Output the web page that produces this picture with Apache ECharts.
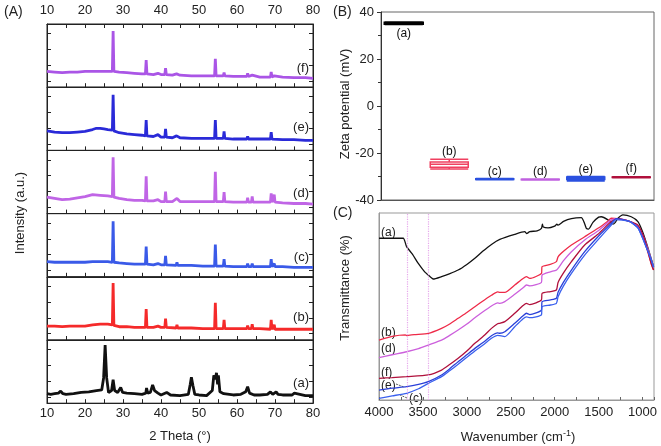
<!DOCTYPE html>
<html><head><meta charset="utf-8">
<script src="https://cdn.jsdelivr.net/npm/echarts@6/dist/echarts.min.js"></script>
<style>html,body{margin:0;padding:0;background:#fff}#c{width:661px;height:446px}</style>
</head><body><div id="c"></div>
<script>
// ---------- Panel A: XRD (2 Theta vs intensity, stacked f..a from top) ----------
const xrdNames = ['(f)','(e)','(d)','(c)','(b)','(a)'];
const xrdF = [[10,25],[12,24],[14,23],[16,24],[18,24],[20,25],[22,25],[24,25],[26,25],[27.2,25],[27.4,89],[27.6,25],[29,24],[31,23],[33,22],[35,21],[35.9,21],[36.1,43],[36.3,21],[38,20],[39.2,22],[40,20],[41.0,20],[41.2,30],[41.4,20],[43,19],[44.1,21],[45,19],[48,18],[51,18],[54.1,18],[54.3,45],[54.5,18],[56.4,18],[56.6,23],[56.8,18],[59,17],[62.6,17],[62.8,22],[63,17],[64,19],[66,16],[68.8,16],[69,24],[69.2,16],[69.8,18],[72,16],[75,15],[78,15],[80,14]];
const xrdE = [[10,31],[12,29],[14,28],[16,28],[18,29],[20,30],[22,33],[23,35],[24,35],[25,34],[26,33],[27.2,32],[27.4,88],[27.6,31],[29,28],[31,26],[33,25],[35,24],[35.9,23],[36.1,48],[36.3,23],[38,22],[39.2,25],[40,21],[41.0,21],[41.2,34],[41.4,21],[43,20],[44.1,23],[45,20],[48,19],[51,19],[54.1,19],[54.3,48],[54.5,19],[56.4,19],[56.6,30],[56.8,19],[59,18],[62.6,18],[62.8,22],[63,18],[66,18],[68.8,18],[69,29],[69.2,18],[72,17],[75,17],[78,16],[80,16]];
const xrdD = [[10,26],[12,24],[14,22],[16,23],[18,25],[20,27],[22,30],[24,29],[26,28],[27.2,27],[27.4,89],[27.6,26],[29,24],[31,22],[33,21],[35,21],[35.9,20],[36.1,59],[36.3,20],[38,20],[39.2,22],[40,19],[41.0,19],[41.2,35],[41.4,19],[43,19],[44.2,24],[45,19],[48,19],[51,19],[54.1,19],[54.3,66],[54.5,19],[56.4,19],[56.6,34],[56.8,19],[59,18],[62.6,18],[62.8,25],[63,18],[63.8,18],[64.0,27],[64.2,18],[66,18],[68.8,18],[69,32],[69.2,18],[69.6,18],[69.8,30],[70,18],[72,17],[75,16],[78,16],[80,15]];
const xrdC = [[10,24],[12,23],[14,23],[16,23],[18,23],[20,23],[22,24],[24,24],[26,24],[27.2,23],[27.4,88],[27.6,23],[29,22],[31,21],[33,20],[35,20],[35.9,20],[36.1,48],[36.3,20],[38,19],[39.2,21],[40,19],[41.0,19],[41.2,33],[41.4,19],[44.0,18],[44.2,23],[44.4,18],[46,18],[48,18],[51,17],[54.1,17],[54.3,51],[54.5,17],[56.4,17],[56.6,28],[56.8,17],[59,16],[62.6,16],[62.8,21],[63,16],[63.8,16],[64,21],[64.2,16],[66,16],[68.8,16],[69,28],[69.2,16],[69.6,16],[69.8,21],[70,16],[72,16],[75,15],[78,15],[80,15]];
const xrdB = [[10,22],[12,22],[14,21],[16,22],[18,22],[20,22],[22,24],[24,25],[26,25],[27.2,24],[27.4,90],[27.6,23],[29,21],[31,21],[33,20],[35,20],[35.9,20],[36.1,49],[36.3,20],[38,20],[39.2,22],[40,20],[41.0,20],[41.2,34],[41.4,20],[44.0,19],[44.2,24],[44.4,19],[46,19],[48,19],[51,18],[54.1,18],[54.3,59],[54.5,18],[56.4,18],[56.6,32],[56.8,18],[59,18],[62.6,18],[62.8,23],[63,18],[63.8,18],[64,25],[64.2,18],[66,18],[68.8,17],[69,32],[69.2,17],[69.6,17],[69.8,24],[70,17],[72,17],[75,17],[78,17],[80,17]];
const xrdA = [[10,15],[11,14],[12,15],[13,16],[13.6,19],[14.2,15],[15,14],[17,15],[19,17],[21,18],[23,20],[24.4,21],[24.9,40],[25.3,92],[25.7,40],[26.2,17],[27.0,20],[27.4,37],[27.8,20],[28.6,17],[29.4,25],[29.9,17],[31,16],[33,15],[35,14],[36.0,16],[36.2,24],[36.5,16],[37.2,17],[37.8,29],[38.3,20],[38.7,21],[39.2,16],[40,13],[41.5,17],[42.5,13],[45,12],[47.2,14],[47.7,30],[48.0,41],[48.4,28],[48.9,14],[50,13],[52,12],[53.5,20],[53.9,44],[54.3,38],[54.6,48],[54.9,30],[55.1,44],[55.5,18],[56.5,15],[57,13],[59,13],[61,14],[62.3,18],[62.8,26],[63.3,16],[64.5,13],[66,13],[68,14],[68.8,18],[69.4,14],[70.3,18],[70.8,14],[72,13],[74.5,13],[75.1,16],[75.6,13],[78,12],[80,12]];
const xrdSeries = [xrdF, xrdE, xrdD, xrdC, xrdB, xrdA];
const xrdColors = ['#aa55e6','#2a2ad8','#c065e6','#3a5ae8','#f52a2a','#111111'];
const xrdYTicks = [10, 35, 60, 85];

// ---------- Panel B: zeta potential ----------
const zetaCats = ['(a)','(b)','(c)','(d)','(e)','(f)'];
const zetaBoxes = [
  [34.9, 35.0, 35.2, 35.4, 35.5],
  [-26.8, -26.1, -24.8, -23.8, -22.7],
  [-31.4, -31.3, -31.2, -31.0, -30.9],
  [-31.5, -31.4, -31.3, -31.2, -31.1],
  [-31.9, -31.3, -30.8, -30.2, -30.0],
  [-30.5, -30.4, -30.3, -30.2, -30.1]
];
const zetaColors = ['#000000','#f04060','#2a50e0','#c060e0','#2a50e0','#b0103c'];
const zetaLabelY = [30.8, -19.6, -27.9, -28.0, -27.0, -26.8];

// ---------- Panel C: FTIR ----------
const ftirA = [[4000,86.5],[3850,86.5],[3724,86.5],[3686,82],[3620,78],[3553,73],[3480,68.5],[3439,66.8],[3383,64.7],[3288,66],[3200,67.5],[3099,69.5],[3000,72.5],[2909,75.8],[2820,79.5],[2720,83.2],[2625,85.9],[2455,88.6],[2341,90],[2320,89],[2284,90],[2200,90.5],[2151,91.8],[2140,94],[2130,92.5],[2076,92],[2000,93],[1975,94],[1962,93.5],[1900,95.5],[1810,97],[1697,97.5],[1665,95],[1640,91.8],[1614,91.4],[1565,95],[1500,97.8],[1470,98],[1394,96.3],[1337,94],[1310,95],[1280,97.2],[1224,99],[1129,98],[1053,95.4],[1000,90],[943,82],[875,71.3]];
const ftirB = [[4000,32],[3850,34],[3700,34.8],[3686,34.5],[3600,35],[3439,35.6],[3288,38.3],[3200,40.5],[3099,43.7],[3000,46.8],[2909,49.9],[2800,53.5],[2720,56],[2650,57.8],[2625,57.6],[2568,57.6],[2455,61.5],[2360,65],[2322,66],[2284,65],[2151,67.7],[2144,71.3],[2050,72.5],[1981,74],[1962,76.6],[1900,79.5],[1810,82.9],[1659,87.3],[1508,91.8],[1400,95.5],[1356,97.2],[1280,97],[1150,95.5],[1053,92.7],[977,84.7],[902,73],[875,69.5]];
const ftirD = [[4000,22.6],[3850,24.2],[3686,25.8],[3550,27.5],[3439,29.4],[3288,32],[3200,34.4],[3099,37.4],[3000,40.6],[2909,44],[2800,47.7],[2720,50.3],[2650,51.9],[2625,51.7],[2568,52.6],[2455,56.5],[2360,60],[2322,61.5],[2284,61],[2151,62.9],[2144,66.8],[2050,68.5],[1981,69.5],[1962,70.4],[1900,74.5],[1810,79.3],[1659,85.6],[1508,90.4],[1356,96.3],[1280,97],[1150,95.5],[1053,92.7],[977,86],[875,71.3]];
const ftirF = [[4000,11.6],[3850,12],[3686,12.5],[3439,13.4],[3288,16],[3200,18.8],[3099,22.3],[3000,26.2],[2909,30.3],[2800,34.6],[2720,38.3],[2650,40.8],[2625,41],[2568,41.9],[2455,46.4],[2360,50.5],[2322,51.7],[2284,51],[2151,53.5],[2144,57],[2050,58],[1981,58.8],[1962,62.9],[1900,68],[1810,74],[1659,82.9],[1508,88.6],[1356,95.4],[1280,97],[1150,95.5],[1053,93.5],[977,86],[902,73],[875,69.5]];
const ftirE = [[4000,5.3],[3850,6.3],[3686,7.1],[3550,8.3],[3439,9.8],[3288,13.4],[3200,16.5],[3099,20.5],[3000,24.2],[2909,27.6],[2800,31.3],[2720,34.4],[2650,35.9],[2625,35.7],[2568,36.5],[2455,41],[2360,45],[2322,46.4],[2284,45.7],[2151,48.1],[2144,52.6],[2050,53.5],[1981,54.4],[1962,57.6],[1900,63],[1810,69.5],[1659,79.3],[1508,87.3],[1356,94.5],[1300,97],[1150,95.5],[1053,92],[977,84],[902,75],[875,71]];
const ftirC = [[4000,0.9],[3850,2.2],[3686,3.6],[3550,6],[3439,8.9],[3288,12.5],[3200,15.5],[3099,19.1],[3000,22.8],[2909,26.2],[2800,30],[2720,33],[2650,34.6],[2625,34.4],[2568,33.9],[2455,39.2],[2360,43.5],[2322,44.5],[2284,44],[2151,45.5],[2144,49.9],[2050,50.8],[1981,51.7],[1962,55.2],[1900,61],[1810,67.7],[1659,77.5],[1508,85.6],[1356,93.6],[1300,96.5],[1150,95.5],[1053,92],[977,84],[902,75],[875,71]];
const ftirSeries = [ftirA, ftirB, ftirD, ftirF, ftirE, ftirC];
const ftirNames = ['(a)','(b)','(d)','(f)','(e)','(c)'];
const ftirColors = ['#111111','#ee2a48','#cc5fdc','#b0103c','#2a40d8','#3a60ee'];
const ftirMarks = [3680, 3440];

const FONT = 'Liberation Sans, Arial, sans-serif';
const chart = echarts.init(document.getElementById('c'), null, {renderer:'canvas'});
const plain = v => String(v);

const grids = [], xAxes = [], yAxes = [], series = [], graphics = [];
const aTop = 24, aH = 63.2;
for (let i = 0; i < 6; i++) {
  grids.push({left:47, width:266, top: aTop + i*aH, height: aH, show:true, borderColor:'#222', borderWidth:1, backgroundColor:'transparent'});
  xAxes.push({gridIndex:i, type:'value', min:10, max:80, interval:10, position:'bottom',
    axisLine:{show:true, onZero:false, lineStyle:{color:'#222'}},
    axisTick:{show:true, inside:true, length:4, lineStyle:{color:'#222'}},
    minorTick:{show:true, splitNumber:2, length:4, lineStyle:{color:'#222'}},
    splitLine:{show:false},
    axisLabel:{show: i===5, fontFamily:FONT, fontSize:13, color:'#222', margin:4, formatter:plain}
  });
  yAxes.push({gridIndex:i, type:'value', min:0, max:100, position:'left',
    axisLine:{show:true, onZero:false, lineStyle:{color:'#222'}},
    axisTick:{show:true, inside:true, length:4, customValues:xrdYTicks, lineStyle:{color:'#222'}},
    axisLabel:{show:false}, splitLine:{show:false}});
}
for (let i = 0; i < 6; i++) {
  yAxes.push({gridIndex:i, type:'value', min:0, max:100, position:'right',
    axisLine:{show:true, onZero:false, lineStyle:{color:'#222'}},
    axisTick:{show:true, inside:true, length:4, customValues:xrdYTicks, lineStyle:{color:'#222'}},
    axisLabel:{show:false}, splitLine:{show:false}});
}
xAxes.push({gridIndex:0, type:'value', min:10, max:80, interval:10, position:'top',
  axisLine:{show:true, onZero:false, lineStyle:{color:'#222'}},
  axisTick:{show:true, inside:true, length:4, lineStyle:{color:'#222'}},
  minorTick:{show:true, splitNumber:2, length:4, lineStyle:{color:'#222'}},
  splitLine:{show:false},
  axisLabel:{show:true, fontFamily:FONT, fontSize:13, color:'#222', margin:7, formatter:plain}});
for (let i = 0; i < 6; i++) {
  series.push({type:'line', name:xrdNames[i], xAxisIndex:i, yAxisIndex:i, data:xrdSeries[i],
    showSymbol:false, symbol:'none', lineStyle:{color:xrdColors[i], width:2.8}, itemStyle:{color:xrdColors[i]}, z:3});
}
// Panel B
grids.push({left:381, width:273, top:12, height:188, show:true, borderColor:'#666', borderWidth:1});
xAxes.push({gridIndex:6, type:'category', data:zetaCats, boundaryGap:true,
  axisLine:{show:true, onZero:false, lineStyle:{color:'#555'}}, axisTick:{show:false}, axisLabel:{show:false}});
yAxes.push({gridIndex:6, type:'value', min:-40, max:40, interval:20,
  axisLine:{show:true, onZero:false, lineStyle:{color:'#333'}},
  axisTick:{show:true, length:4, lineStyle:{color:'#333'}},
  minorTick:{show:true, splitNumber:2, length:3, lineStyle:{color:'#333'}},
  splitLine:{show:false},
  axisLabel:{fontFamily:FONT, fontSize:13, color:'#222', margin:7, formatter:plain}});
series.push({type:'boxplot', xAxisIndex:7, yAxisIndex:12, boxWidth:[38,38],
  data: zetaBoxes.map((b,i)=>({value:b, itemStyle:{color:'rgba(255,255,255,0)', borderColor:zetaColors[i], borderWidth: i===0?2.5:1.5}})),
  z:3});
// Panel C
grids.push({left:379, width:275, top:213, height:187, show:true, borderColor:'#999', borderWidth:1});
xAxes.push({gridIndex:7, type:'value', min:870, max:4000, inverse:true,
  axisLine:{show:true, onZero:false, lineStyle:{color:'#999'}},
  axisTick:{show:true, inside:true, length:3, lineStyle:{color:'#666'}},
  minorTick:{show:true, splitNumber:2, length:3, lineStyle:{color:'#666'}},
  axisLabel:{show:true, fontFamily:FONT, fontSize:13, color:'#222', margin:6, formatter:plain, showMinLabel:false},
  splitLine:{show:false}});
yAxes.push({gridIndex:7, type:'value', min:0, max:100,
  axisLine:{show:true, onZero:false, lineStyle:{color:'#999'}}, axisTick:{show:false}, axisLabel:{show:false}, splitLine:{show:false}});
for (let i = 0; i < ftirSeries.length; i++) {
  const s = {type:'line', name:'ftir'+ftirNames[i], xAxisIndex:8, yAxisIndex:13, data:ftirSeries[i],
    showSymbol:false, symbol:'none', smooth:0.2, lineStyle:{color:ftirColors[i], width:1.3}, z:3};
  if (i === 0) {
    s.markLine = {silent:true, symbol:'none', label:{show:false},
      lineStyle:{color:'#e6a8ec', type:'dotted', width:1.2},
      data: ftirMarks.map(v=>({xAxis:v}))};
  }
  series.push(s);
}

function txt(x, y, text, opts) {
  return Object.assign({type:'text', x:x, y:y, silent:true,
    style:Object.assign({text:text, font:'13px ' + FONT, fill:'#222', textAlign:'left', textVerticalAlign:'middle'}, (opts&&opts.style)||{})},
    opts&&opts.rot?{rotation:opts.rot}:{});
}
graphics.push(txt(4, 12, '(A)', {style:{font:'14px ' + FONT}}));
graphics.push(txt(333, 12, '(B)', {style:{font:'14px ' + FONT}}));
graphics.push(txt(333, 213, '(C)', {style:{font:'14px ' + FONT}}));
graphics.push(txt(20, 213, 'Intensity (a.u.)', {rot:Math.PI/2, style:{textAlign:'center'}}));
graphics.push(txt(180, 436, '2 Theta (°)', {style:{textAlign:'center'}}));
graphics.push(txt(345, 104, 'Zeta potential (mV)', {rot:Math.PI/2, style:{textAlign:'center'}}));
graphics.push(txt(345, 288, 'Transmittance (%)', {rot:Math.PI/2, style:{textAlign:'center'}}));
graphics.push({type:'text', x:518, y:437, silent:true, style:{
  text:'Wavenumber (cm{s|-1})', font:'13px ' + FONT, fill:'#222', textAlign:'center', textVerticalAlign:'middle',
  rich:{s:{fontSize:9, fontFamily:FONT, verticalAlign:'top', padding:[0,0,6,0]}}}});
const xrdLabelY = [68, 127, 193, 257, 317, 383];
xrdNames.forEach((n,i)=>graphics.push(txt(309, xrdLabelY[i], n, {style:{textAlign:'right'}})));
const ftirLabelPos = [[381,233,'(a)'],[381,333,'(b)'],[381,349,'(d)'],[381,373,'(f)'],[381,386,'(e)'],[409,399,'(c)']];
ftirLabelPos.forEach(p=>graphics.push(txt(p[0], p[1], p[2], {style:{font:'12px ' + FONT}})));
// small pointer lines for (e) and (c)
graphics.push({type:'line', silent:true, shape:{x1:396, y1:384, x2:404, y2:387}, style:{stroke:'#333', lineWidth:0.8, lineDash:[2,1]}});
graphics.push({type:'line', silent:true, shape:{x1:407, y1:398, x2:400, y2:395}, style:{stroke:'#333', lineWidth:0.8, lineDash:[2,1]}});

chart.setOption({
  animation:false,
  backgroundColor:'#fff',
  grid: grids, xAxis: xAxes, yAxis: yAxes, series: series, graphic: graphics
});
// zeta labels placed through the chart's own scales
const zetaLabelGraphics = zetaLabelY.map((y,i)=>{
  const p = chart.convertToPixel({xAxisIndex:7, yAxisIndex:12}, [i, y]);
  return {type:'text', x:p[0], y:p[1], silent:true, z:10,
    style:{text:zetaCats[i], font:'12px ' + FONT, fill:'#111', textAlign:'center', textVerticalAlign:'middle'}};
});
chart.setOption({graphic: graphics.concat(zetaLabelGraphics)});
</script>
</body></html>
